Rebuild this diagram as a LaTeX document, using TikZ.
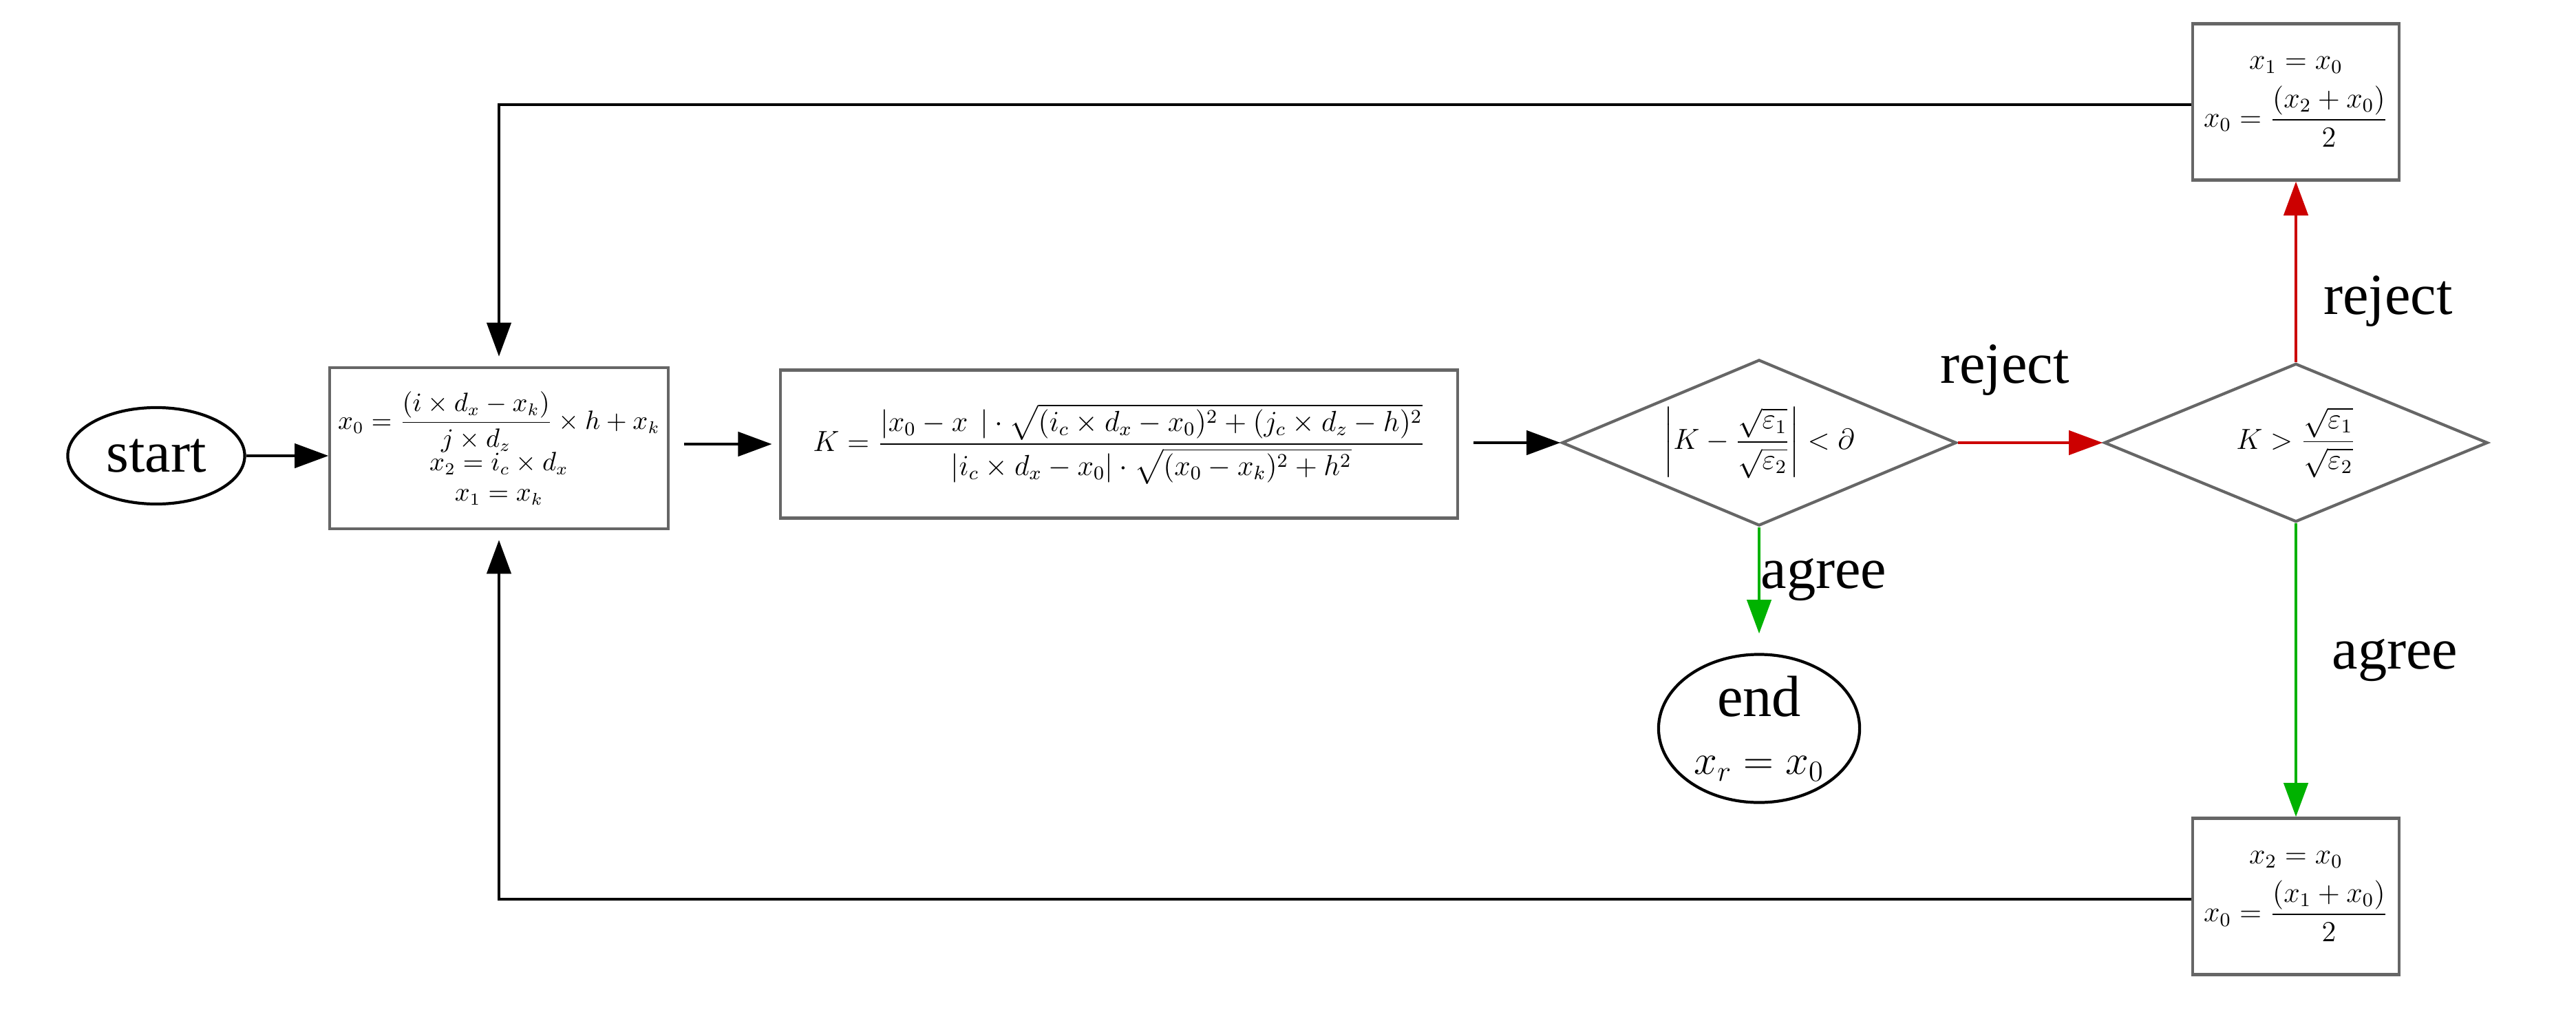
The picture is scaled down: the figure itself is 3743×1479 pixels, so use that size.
\documentclass[tikz,border=0pt]{standalone}
\usepackage{amsmath}
\usepackage{fontspec}
\setmainfont{Liberation Serif}
\usetikzlibrary{shapes.geometric,arrows.meta}
\begin{document}
\begin{tikzpicture}[x=0.01cm,y=-0.01cm,
  box/.style={draw=black!60,line width=1.2pt,rectangle,inner sep=0pt},
  ell/.style={draw=black,line width=1.2pt,ellipse,inner sep=0pt},
  dia/.style={draw=black!60,line width=1.2pt,diamond,inner sep=0pt,aspect=2.4},
  arr/.style={line width=1.2pt,-{Triangle[length=14pt,width=10pt]}},
  lab/.style={font=\fontsize{24}{28}\selectfont},
  eq/.style={font=\fontsize{12}{14}\selectfont,align=center}]
\useasboundingbox (0,0) rectangle (3743,1479);
\node[ell,minimum width=2.57cm,minimum height=1.4cm,lab] (start) at (227,662) {start};
\node[box,minimum width=4.91cm,minimum height=2.34cm,eq,font=\fontsize{10.5}{12.5}\selectfont] (b1) at (725,651)
 {$x_0=\dfrac{(i\times d_x-x_k)}{j\times d_z}\times h+x_k$\\[-1pt]$x_2=i_c\times d_x$\\$x_1=x_k$};
\node[box,minimum width=9.83cm,minimum height=2.15cm,eq] (b2) at (1626,645)
 {$K=\dfrac{\left|x_0-x\phantom{_k}\right|\cdot\sqrt{(i_c\times d_x-x_0)^2+(j_c\times d_z-h)^2}}{\left|i_c\times d_x-x_0\right|\cdot\sqrt{(x_0-x_k)^2+h^2}}$};
\node[dia,minimum width=5.73cm,minimum height=2.41cm] (d1) at (2556,643) {};
\node[eq] at (d1) {$\left|K-\dfrac{\sqrt{\varepsilon_1}}{\sqrt{\varepsilon_2}}\right|<\partial$};
\node[dia,minimum width=5.57cm,minimum height=2.3cm] (d2) at (3336,643) {};
\node[eq] at (d2) {$K>\dfrac{\sqrt{\varepsilon_1}}{\sqrt{\varepsilon_2}}$};
\node[box,minimum width=3cm,minimum height=2.27cm,eq] (t) at (3336,148)
 {$x_1=x_0$\\[4pt]$x_0=\dfrac{(x_2+x_0)}{2}$};
\node[box,minimum width=3cm,minimum height=2.27cm,eq] (bb) at (3336,1302)
 {$x_2=x_0$\\[4pt]$x_0=\dfrac{(x_1+x_0)}{2}$};
\node[ell,minimum width=2.92cm,minimum height=2cm,align=center,font=\fontsize{24}{26}\selectfont] (e) at (2556,1058)
 {end\\[-2pt]{\fontsize{17}{19}\selectfont$x_r=x_0$}};
\draw[arr] (start.east) -- (start.east -| b1.west);
\draw[arr] ([xshift=6pt]b1.east |- b2.west) -- ([xshift=-3pt]b2.west);
\draw[arr] ([xshift=6pt]b2.east |- d1.west) -- (d1.west);
\draw[arr,red!80!black] (d1.east) -- (d2.west);
\draw[arr,green!70!black] (d1.south) -- ([yshift=8pt]e.north);
\draw[arr,red!80!black] (d2.north) -- (t.south);
\draw[arr,green!70!black] (d2.south) -- (bb.north);
\coordinate (tc) at (725,152);
\coordinate (bc) at (725,1306);
\draw[arr] (t.west |- tc) -- (tc) -- ([yshift=4pt]b1.north);
\draw[arr] (bb.west |- bc) -- (bc) -- ([yshift=-4pt]b1.south);
\node[lab] at (2913,538) {reject};
\node[lab] at (3470,438) {reject};
\node[lab] at (2650,842) {agree};
\node[lab] at (3480,959) {agree};
\end{tikzpicture}
\end{document}
